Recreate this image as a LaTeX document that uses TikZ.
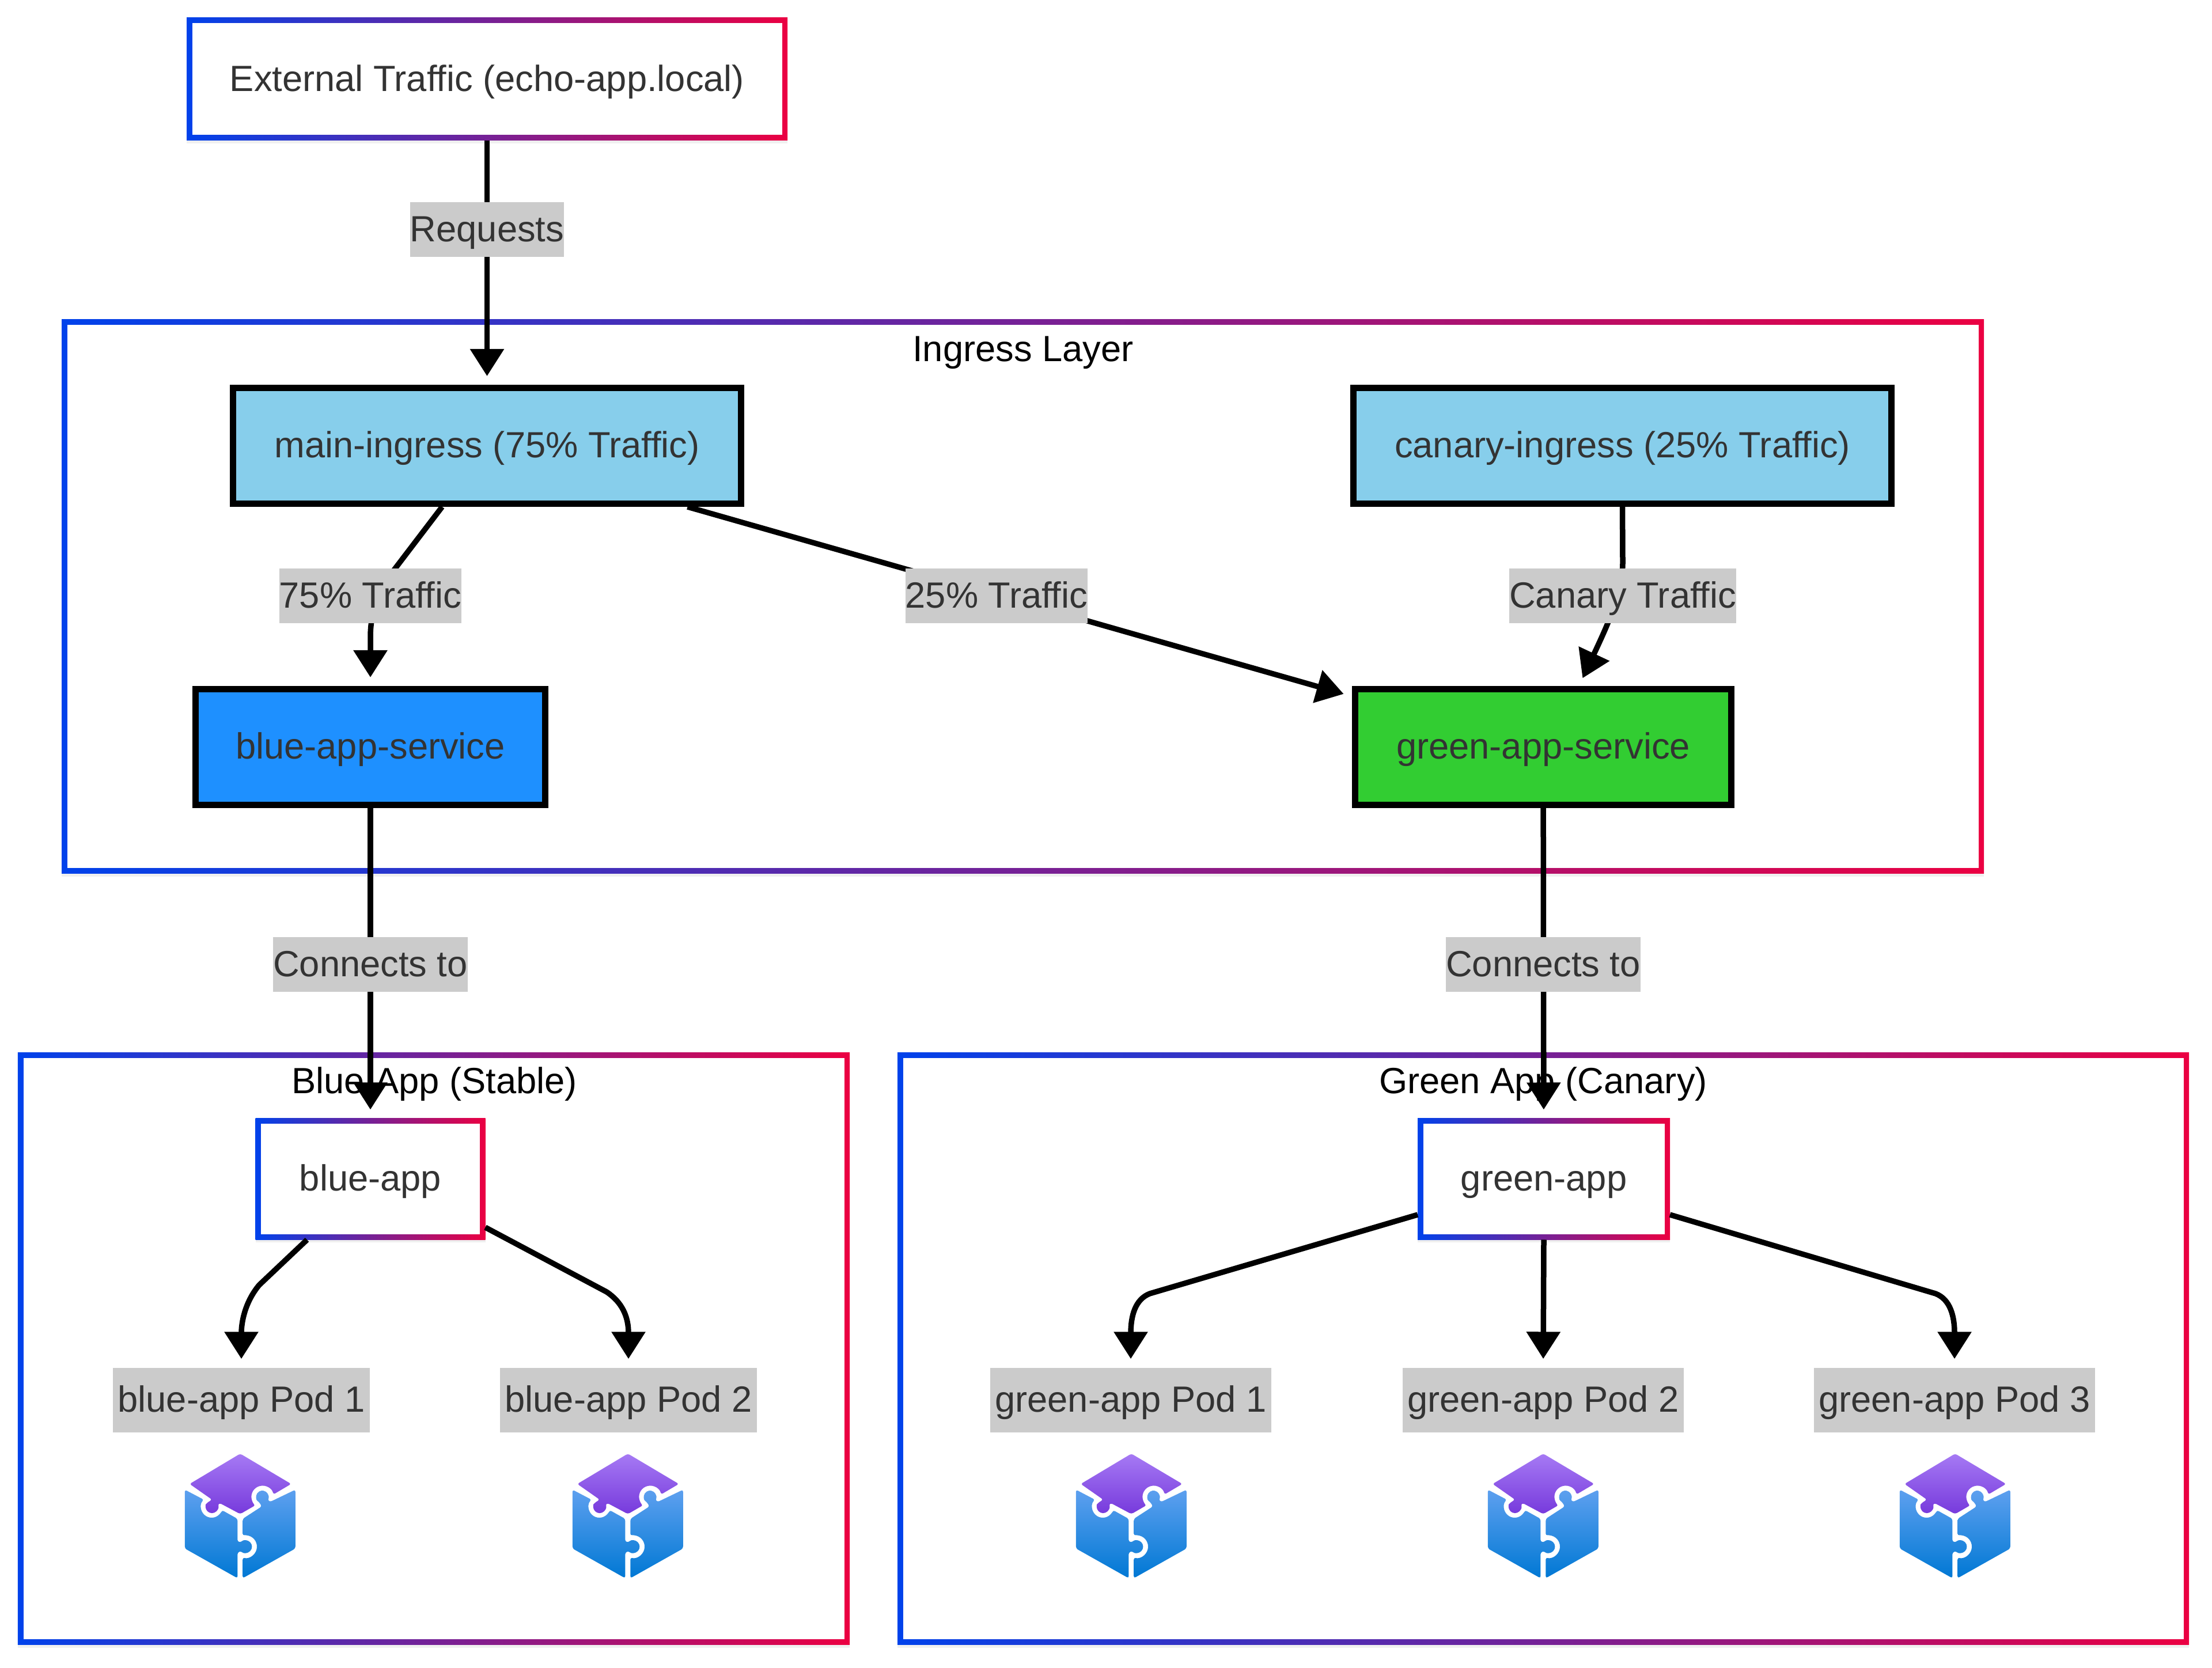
\documentclass[tikz,border=0pt]{standalone}
\usepackage{fontspec}
\setmainfont{Liberation Sans}
\usetikzlibrary{arrows.meta,shadows,calc}

\definecolor{gradblue}{HTML}{0042EB}
\definecolor{gradred}{HTML}{EB0042}
\definecolor{textgrey}{HTML}{333333}
\definecolor{labelgrey}{HTML}{CBCBCB}
\definecolor{ingressblue}{HTML}{87CEEB}
\definecolor{serviceblue}{HTML}{1E90FF}
\definecolor{servicegreen}{HTML}{32CD32}
\definecolor{iconpurpletop}{HTML}{A67AF4}
\definecolor{iconpurplebot}{HTML}{773ADC}
\definecolor{iconbluetop}{HTML}{5EA0EF}
\definecolor{iconbluebot}{HTML}{0078D4}

\tikzset{
    every node/.style={text height=.5cm, text depth=.08cm},
    softshadow/.style={drop shadow={shadow xshift=0cm, shadow yshift=-.05cm, opacity=.12}},
    gradbox/.style={
        rectangle, softshadow, outer sep=0pt, text=textgrey,
        left color=gradblue, right color=gradred,
        path picture={
            \fill[white] ([shift={(.095,.095)}]path picture bounding box.south west)
                rectangle ([shift={(-.095,-.095)}]path picture bounding box.north east);
        }
    },
    fillbox/.style={
        rectangle, softshadow, draw=black, line width=.11cm, text=textgrey,
        minimum height=2.01cm
    },
    edgelabel/.style={fill=labelgrey, text=textgrey, inner xsep=0pt, inner ysep=0pt, minimum height=.95cm},
    podlabel/.style={fill=labelgrey, text=textgrey, inner xsep=.08cm, inner ysep=0pt, minimum height=1.12cm},
    flow/.style={draw=black, line width=.095cm, -{Triangle[length=.47cm, width=.57cm]}, shorten >=.15cm},
    podicon/.pic={
        \begin{scope}[x=.00333cm, y=.00333cm]
            \shade[top color=iconpurpletop, bottom color=iconpurplebot, rounded corners=1pt]
                (0,325) -- (266,167) -- (173,112)
                arc[start angle=12, end angle=230, radius=58]
                -- (0,10) -- (-107,67) -- (-117,60)
                arc[start angle=22, end angle=-220, radius=33]
                -- (-147,85) -- (-264,167) -- cycle;
            \shade[top color=iconbluetop, bottom color=iconbluebot, rounded corners=1pt]
                (-289,137) -- (-190,85)
                arc[start angle=137, end angle=343, radius=56]
                -- (-14,-15) -- (-14,-135) -- (5,-137)
                arc[start angle=135, end angle=-135, radius=33]
                -- (-14,-190) -- (-14,-325) -- (-289,-170) -- cycle;
            \shade[top color=iconbluetop, bottom color=iconbluebot, rounded corners=1pt]
                (13,-15) -- (113,50) -- (97,74)
                arc[start angle=235, end angle=-30, radius=32]
                -- (155,73) -- (288,137) -- (288,-170) -- (13,-325) -- (13,-217)
                arc[start angle=-105, end angle=105, radius=59]
                -- cycle;
        \end{scope}
    }
}

\begin{document}
\begin{tikzpicture}
    \useasboundingbox (0,0) rectangle (38.4,28.96);
    \fontsize{18}{21}\selectfont

    % frames
    \node[gradbox, minimum width=33.37cm, minimum height=9.62cm] (ingress) at (17.755,18.60) {};
    \node[gradbox, minimum width=14.44cm, minimum height=10.28cm] (bluegroup) at (7.53,5.54) {};
    \node[gradbox, minimum width=22.42cm, minimum height=10.28cm] (greengroup) at (26.79,5.54) {};
    \node[text=black] (ingresstitle) at (17.76,22.89) {Ingress Layer};
    \node[text=black] (bluetitle) at (7.54,10.18) {Blue App (Stable)};
    \node[text=black] (greentitle) at (26.79,10.18) {Green App (Canary)};

    % boxes
    \node[gradbox, minimum width=10.43cm, minimum height=2.13cm] (external) at (8.455,27.585) {External Traffic (echo-app.local)};
    \node[fillbox, fill=ingressblue, minimum width=8.82cm] (mainingress) at (8.455,21.22) {main-ingress (75\% Traffic)};
    \node[fillbox, fill=ingressblue, minimum width=9.34cm] (canaryingress) at (28.165,21.22) {canary-ingress (25\% Traffic)};
    \node[fillbox, fill=serviceblue, minimum width=6.07cm] (blueservice) at (6.43,15.99) {blue-app-service};
    \node[fillbox, fill=servicegreen, minimum width=6.53cm] (greenservice) at (26.79,15.99) {green-app-service};
    \node[gradbox, minimum width=3.99cm, minimum height=2.11cm] (blueapp) at (6.43,8.49) {blue-app};
    \node[gradbox, minimum width=4.38cm, minimum height=2.11cm] (greenapp) at (26.80,8.49) {green-app};

    % pods
    \node[podlabel] (bluepodone) at (4.19,4.65) {blue-app Pod 1};
    \node[podlabel] (bluepodtwo) at (10.91,4.65) {blue-app Pod 2};
    \node[podlabel] (greenpodone) at (19.63,4.65) {green-app Pod 1};
    \node[podlabel] (greenpodtwo) at (26.79,4.65) {green-app Pod 2};
    \node[podlabel] (greenpodthree) at (33.93,4.65) {green-app Pod 3};
    \foreach \podx in {4.17,10.90,19.64,26.79,33.94}
        \pic at (\podx,2.64) {podicon};

    % connectors
    \draw[flow] (external) -- (mainingress);
    \draw[flow] ([xshift=-.78cm]mainingress.south) -- (6.86,19.09) .. controls (6.55,18.7) and (6.43,18.3) .. (6.43,17.9) -- (blueservice.north);
    \draw[flow] ([xshift=3.48cm]mainingress.south) -- ([yshift=.88cm]greenservice.west);
    \draw[flow] (canaryingress.south) -- (28.17,19.2) .. controls (28.17,18.7) and (27.95,18.2) .. ([xshift=.62cm]greenservice.north);
    \draw[flow] (blueservice) -- (blueapp);
    \draw[flow] (greenservice) -- (greenapp);
    \draw[flow] ([xshift=-1.10cm]blueapp.south) -- (4.5,6.65) .. controls (4.25,6.35) and (4.19,6.0) .. (bluepodone.north);
    \draw[flow] ([yshift=-.84cm]blueapp.east) -- (10.53,6.53) .. controls (10.8,6.35) and (10.91,6.1) .. (bluepodtwo.north);
    \draw[flow] (greenapp.west) ++(0,-.62) -- (19.96,6.50) .. controls (19.7,6.4) and (19.63,6.1) .. (greenpodone.north);
    \draw[flow] (greenapp.south) -- (greenpodtwo.north);
    \draw[flow] (greenapp.east) ++(0,-.62) -- (33.60,6.50) .. controls (33.86,6.4) and (33.93,6.1) .. (greenpodthree.north);

    % edge labels
    \node[edgelabel] (requestslabel) at (8.455,24.97) {Requests};
    \node[edgelabel] (bluetraffic) at (6.43,18.61) {75\% Traffic};
    \node[edgelabel] (greentraffic) at (17.30,18.61) {25\% Traffic};
    \node[edgelabel] (canarytraffic) at (28.17,18.61) {Canary Traffic};
    \node[edgelabel] (blueconnects) at (6.43,12.21) {Connects to};
    \node[edgelabel] (greenconnects) at (26.79,12.21) {Connects to};
\end{tikzpicture}
\end{document}
